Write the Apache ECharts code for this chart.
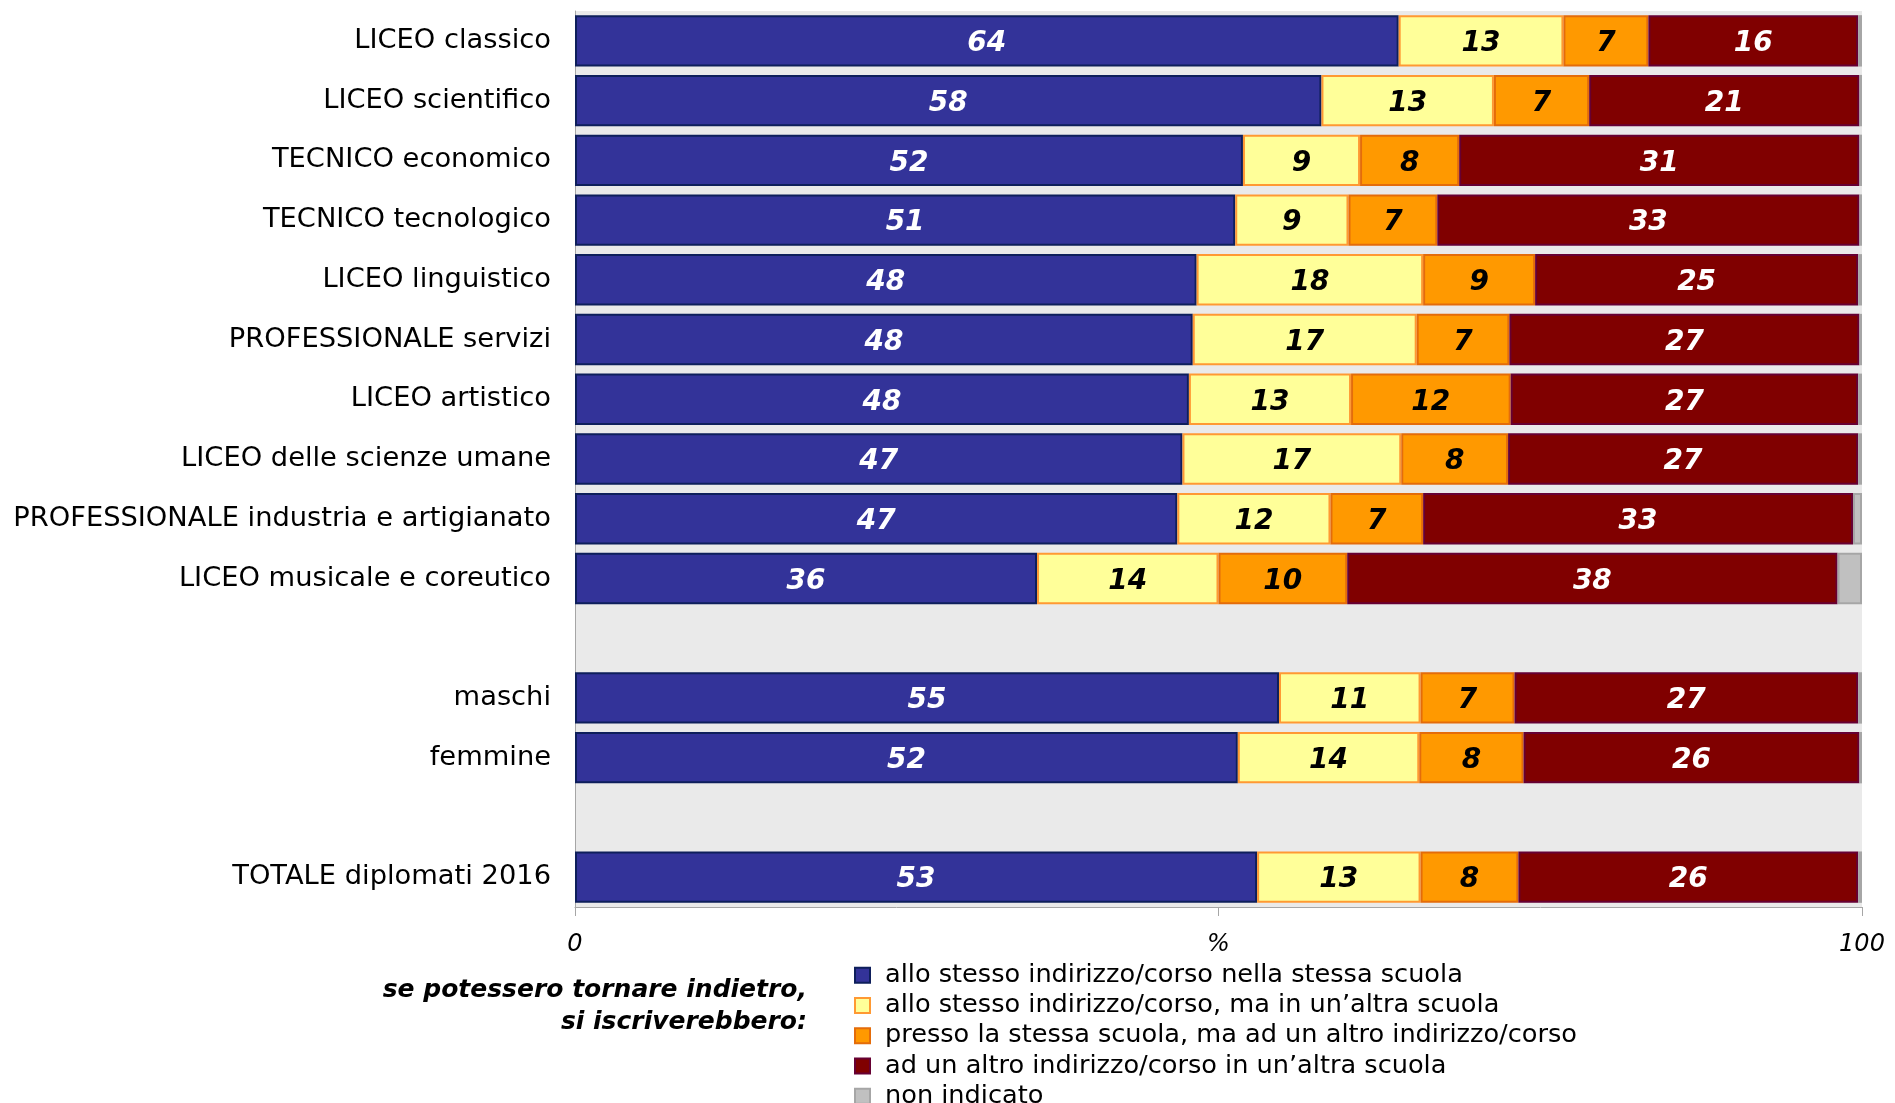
<!DOCTYPE html>
<html>
<head>
<meta charset="utf-8">
<script src="https://cdn.jsdelivr.net/npm/echarts@6/dist/echarts.min.js"></script>
<style>
  html, body { margin: 0; padding: 0; background: #fff; }
  #chart { width: 1895px; height: 1103px; }
</style>
</head>
<body>
<div id="chart"></div>
<script>
// categorie (righe vuote = separatori)
var categorie = [
    'LICEO classico', 'LICEO scientifico', 'TECNICO economico', 'TECNICO tecnologico',
    'LICEO linguistico', 'PROFESSIONALE servizi', 'LICEO artistico', 'LICEO delle scienze umane',
    'PROFESSIONALE industria e artigianato', 'LICEO musicale e coreutico', '',
    'maschi', 'femmine', ' ', 'TOTALE diplomati 2016'
];

var stessoIndirizzoStessaScuola = [64.0, 58.0, 51.9, 51.3, 48.3, 48.0, 47.7, 47.2, 46.8, 35.9, null, 54.7, 51.5, null, 53.0];
var stessoIndirizzoAltraScuola = [12.8, 13.4, 9.1, 8.8, 17.6, 17.4, 12.6, 17.0, 11.9, 14.1, null, 11.0, 14.1, null, 12.7];
var stessaScuolaAltroIndirizzo = [6.6, 7.4, 7.7, 6.9, 8.7, 7.2, 12.4, 8.3, 7.2, 10.0, null, 7.3, 8.1, null, 7.6];
var altroIndirizzoAltraScuola = [16.3, 21.0, 31.1, 32.8, 25.1, 27.2, 27.0, 27.2, 33.4, 38.1, null, 26.7, 26.1, null, 26.4];
var nonIndicato = [0.3, 0.2, 0.2, 0.2, 0.3, 0.2, 0.3, 0.3, 0.7, 1.9, null, 0.3, 0.2, null, 0.3];

var nomiSerie = [
    'allo stesso indirizzo/corso nella stessa scuola',
    'allo stesso indirizzo/corso, ma in un\u2019altra scuola',
    'presso la stessa scuola, ma ad un altro indirizzo/corso',
    'ad un altro indirizzo/corso in un\u2019altra scuola',
    'non indicato'
];

var myChart = echarts.init(document.getElementById('chart'));

function serie(nome, dati, colore, bordo, coloreTesto, etichetta) {
    return {
        name: nome,
        type: 'bar',
        stack: 'tot',
        data: dati,
        barCategoryGap: '14%',
        itemStyle: { color: colore, borderColor: bordo, borderWidth: 2 },
        label: {
            show: etichetta,
            position: 'inside',
            offset: [0, 3],
            color: coloreTesto,
            fontFamily: 'DejaVu Sans',
            fontSize: 28,
            fontWeight: 'bold',
            fontStyle: 'italic',
            formatter: function (p) { return Math.round(p.value); }
        },
        emphasis: { disabled: true }
    };
}

var option = {
    animation: false,
    textStyle: { fontFamily: 'DejaVu Sans' },
    grid: {
        left: 575, right: 33, top: 11, bottom: 196,
        show: true, backgroundColor: '#EAEAEA', borderWidth: 0
    },
    xAxis: {
        type: 'value',
        min: 0, max: 100, interval: 50,
        axisLine: { show: true, lineStyle: { color: '#A6A6A6', width: 1 } },
        axisTick: { show: true, length: 9, lineStyle: { color: '#A6A6A6' } },
        splitLine: { show: false },
        axisLabel: {
            margin: 26,
            color: '#000',
            fontSize: 24,
            fontStyle: 'italic',
            formatter: function (v) { return v === 50 ? '%' : v; }
        }
    },
    yAxis: {
        type: 'category',
        data: categorie,
        inverse: true,
        axisLine: { show: true, lineStyle: { color: '#A6A6A6', width: 1 } },
        axisTick: { show: false },
        axisLabel: { margin: 24, color: '#000', fontSize: 27.3, padding: [4, 0, 0, 0] }
    },
    legend: {
        orient: 'vertical',
        left: 854, top: 962,
        height: 160,
        padding: 0,
        itemWidth: 15, itemHeight: 15, itemGap: 4,
        icon: 'rect',
        selectedMode: false,
        textStyle: { fontSize: 25.6, lineHeight: 26.3, color: '#000', padding: [0, 0, 0, 10] },
        data: nomiSerie
    },
    graphic: [{
        type: 'text',
        x: 807, y: 974,
        style: {
            text: 'se potessero tornare indietro,\nsi iscriverebbero:',
            textAlign: 'right',
            fontFamily: 'DejaVu Sans',
            fontSize: 25,
            fontWeight: 'bold',
            fontStyle: 'italic',
            lineHeight: 32,
            fill: '#000'
        }
    }],
    series: [
        serie(nomiSerie[0], stessoIndirizzoStessaScuola, '#333399', '#0E1F5B', '#fff', true),
        serie(nomiSerie[1], stessoIndirizzoAltraScuola, '#FFFF99', '#FF9933', '#000', true),
        serie(nomiSerie[2], stessaScuolaAltroIndirizzo, '#FF9900', '#E46C0A', '#000', true),
        serie(nomiSerie[3], altroIndirizzoAltraScuola, '#800000', '#660033', '#fff', true),
        serie(nomiSerie[4], nonIndicato, '#C0C0C0', '#A6A6A6', '#000', false)
    ]
};

option && myChart.setOption(option);
</script>
</body>
</html>
